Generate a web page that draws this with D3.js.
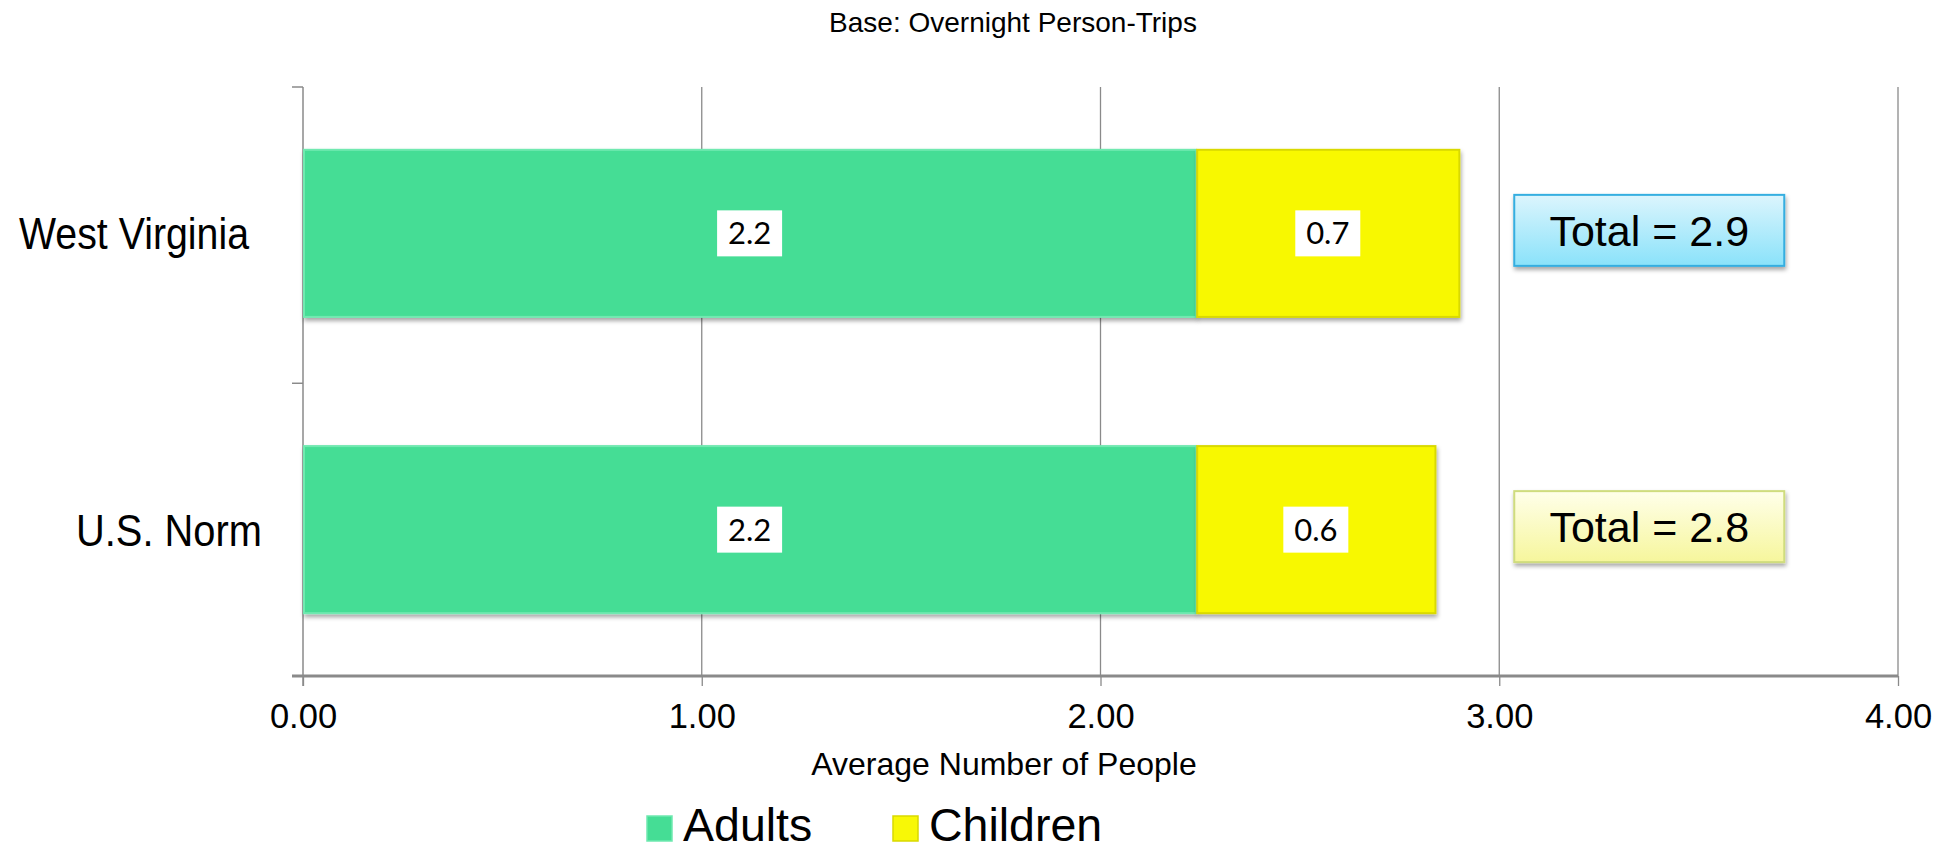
<!DOCTYPE html>
<html><head><meta charset="utf-8">
<script src="https://cdn.jsdelivr.net/npm/d3@7/dist/d3.min.js"></script>
<style>
html,body{margin:0;padding:0;background:#fff;}
svg{display:block;font-family:"Liberation Sans",Arial,sans-serif;}
</style></head>
<body><svg id="c" width="1944" height="850"></svg>
<script>
// ---- data ----
const categories = ["West Virginia", "U.S. Norm"];
const seriesNames = ["Adults", "Children"];
const adults = [2.24, 2.24];
const children = [0.66, 0.60];
const adultLabels = ["2.2", "2.2"];
const childLabels = ["0.7", "0.6"];
const totals = [2.9, 2.8];
const xTicks = [0, 1, 2, 3, 4];
const titleText = "Base: Overnight Person-Trips";
const xTitle = "Average Number of People";

// ---- drawing ----
const svg = d3.select("#c");
const W = 1944, H = 850;
const m = {left: 303, right: 46, top: 87, bottom: 174};
const x = d3.scaleLinear().domain([0, 4]).range([m.left, W - m.right]);
const y = d3.scaleBand().domain(categories).range([m.top, H - m.bottom])
  .paddingInner(0.436).paddingOuter(0.212);
const colors = {Adults: "#45dd95", Children: "#f8f806"};
const edge = {Adults: "#6fe9b0", Children: "#d9d900"};

const defs = svg.append("defs");
const sh = defs.append("filter").attr("id", "sh").attr("x", "-5%").attr("y", "-10%").attr("width", "110%").attr("height", "130%");
sh.append("feDropShadow").attr("dx", 1).attr("dy", 3).attr("stdDeviation", 2.2).attr("flood-color", "#000").attr("flood-opacity", 0.35);
const gBlue = defs.append("linearGradient").attr("id", "gBlue").attr("x1", 0).attr("x2", 0).attr("y1", 0).attr("y2", 1);
gBlue.append("stop").attr("offset", 0).attr("stop-color", "#dcf5fd");
gBlue.append("stop").attr("offset", 1).attr("stop-color", "#8ae2fa");
const gYel = defs.append("linearGradient").attr("id", "gYel").attr("x1", 0).attr("x2", 0).attr("y1", 0).attr("y2", 1);
gYel.append("stop").attr("offset", 0).attr("stop-color", "#ffffea");
gYel.append("stop").attr("offset", 1).attr("stop-color", "#f6f69c");

// title
svg.append("text").attr("x", 1013).attr("y", 32).attr("text-anchor", "middle")
  .attr("font-size", 28).attr("fill", "#000").text(titleText);

// gridlines
const y0 = m.top, y1 = H - m.bottom;
svg.append("g").selectAll("line").data(xTicks.filter(d => d > 0)).join("line")
  .attr("x1", d => x(d)).attr("x2", d => x(d)).attr("y1", y0).attr("y2", y1)
  .attr("stroke", "#8a8a8a").attr("stroke-width", 1.3);

// y axis line and ticks
svg.append("line").attr("x1", x(0)).attr("x2", x(0)).attr("y1", y0).attr("y2", y1 + 10)
  .attr("stroke", "#8a8a8a").attr("stroke-width", 1.5);
const bounds = [y0, y0 + y.step(), y1];
svg.append("g").selectAll("line").data(bounds).join("line")
  .attr("x1", x(0) - 11).attr("x2", x(0)).attr("y1", d => d).attr("y2", d => d)
  .attr("stroke", "#8a8a8a").attr("stroke-width", 1.5);

// x axis
const xa = svg.append("g").attr("transform", `translate(0,${y1})`)
  .call(d3.axisBottom(x).tickValues(xTicks).tickFormat(d3.format(".2f")).tickSize(10).tickPadding(18));
xa.select(".domain").attr("stroke", "#8a8a8a").attr("stroke-width", 3).attr("d", `M${x(0) - 11},0H${x(4)}`);
xa.selectAll(".tick line").attr("stroke", "#8a8a8a").attr("stroke-width", 1.3);
xa.selectAll(".tick text").attr("font-size", 34.5).attr("fill", "#000")
  .attr("font-family", '"Liberation Sans",Arial,sans-serif');

// axis title
svg.append("text").attr("x", 1004).attr("y", 775).attr("text-anchor", "middle")
  .attr("font-size", 32).attr("fill", "#000").text(xTitle);

// category labels
const labelEnd = [249, 262];
const labelLen = [230, 186];
svg.append("g").selectAll("text").data(categories).join("text")
  .attr("x", (d, i) => labelEnd[i]).attr("y", d => y(d) + y.bandwidth() / 2 + 16)
  .attr("text-anchor", "end").attr("font-size", 44)
  .attr("textLength", (d, i) => labelLen[i]).attr("lengthAdjust", "spacingAndGlyphs")
  .attr("fill", "#000").text(d => d);

// bars
const rows = categories.map((c, i) => ({c, a: adults[i], ch: children[i], al: adultLabels[i], cl: childLabels[i], t: totals[i]}));
const segs = [];
rows.forEach(r => {
  segs.push({c: r.c, s: "Adults", x0: 0, x1: r.a, lab: r.al});
  segs.push({c: r.c, s: "Children", x0: r.a, x1: r.a + r.ch, lab: r.cl});
});
const gb = svg.append("g");
gb.selectAll("rect").data(segs).join("rect")
  .attr("x", d => x(d.x0) + 1).attr("y", d => y(d.c))
  .attr("width", d => x(d.x1) - x(d.x0) - 1).attr("height", y.bandwidth())
  .attr("fill", d => colors[d.s]).attr("stroke", d => edge[d.s]).attr("stroke-width", 2)
  .attr("filter", "url(#sh)");

// data labels
const gl = svg.append("g");
segs.forEach(d => {
  const cx = (x(d.x0) + x(d.x1)) / 2, cy = y(d.c) + y.bandwidth() / 2;
  gl.append("rect").attr("x", cx - 32.5).attr("y", cy - 23).attr("width", 65).attr("height", 46).attr("fill", "#fff");
  gl.append("text").attr("x", cx).attr("y", cy + 11).attr("text-anchor", "middle")
    .attr("font-family", "Lato, 'Open Sans', sans-serif").attr("font-size", 31).attr("fill", "#000").text(d.lab);
});

// total boxes
const gt = svg.append("g");
rows.forEach((r, i) => {
  const cy = y(r.c) + y.bandwidth() / 2 - 3;
  const bx = x(3) + 15;
  gt.append("rect").attr("x", bx).attr("y", cy - 35.5).attr("width", 270).attr("height", 71)
    .attr("fill", i === 0 ? "url(#gBlue)" : "url(#gYel)")
    .attr("stroke", i === 0 ? "#36aee0" : "#cfdc7e").attr("stroke-width", 2)
    .attr("filter", "url(#sh)");
  gt.append("text").attr("x", bx + 135).attr("y", cy + 15.5).attr("text-anchor", "middle")
    .attr("font-size", 43).attr("fill", "#000").text("Total = " + r.t.toFixed(1));
});

// legend
const lg = svg.append("g");
const lx = [647, 893];
seriesNames.forEach((s, i) => {
  lg.append("rect").attr("x", lx[i]).attr("y", 816).attr("width", 25).attr("height", 25)
    .attr("fill", colors[s]).attr("stroke", edge[s]).attr("stroke-width", 1.5);
  lg.append("text").attr("x", lx[i] + 36).attr("y", 841).attr("font-size", 46.5).attr("fill", "#000").text(s);
});
</script></body></html>
